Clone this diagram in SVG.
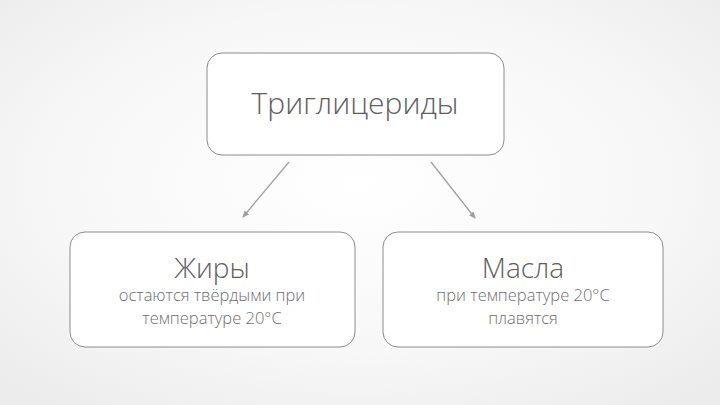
<svg xmlns="http://www.w3.org/2000/svg" width="720" height="405" viewBox="0 0 720 405">
  <defs>
    <radialGradient id="bg" cx="50%" cy="45%" r="70%">
      <stop offset="0" stop-color="#ffffff"/>
      <stop offset="0.6" stop-color="#f7f7f7"/>
      <stop offset="1" stop-color="#ececec"/>
    </radialGradient>
    <marker id="arr" markerWidth="8" markerHeight="8" refX="6" refY="4" orient="auto" markerUnits="userSpaceOnUse">
      <path d="M0,1 L7,4 L0,7 Z" fill="#a0a0a0"/>
    </marker>
    <style>
      .box { fill: #ffffff; stroke: #8c8c8c; stroke-width: 1; }
      .title { font-family: "Open Sans", "Liberation Sans", sans-serif; font-weight: 300; fill: #5e5e5e; text-anchor: middle; }
      .sub { font-family: "Open Sans", "Liberation Sans", sans-serif; font-weight: 300; fill: #6e6e6e; text-anchor: middle; font-size: 16.5px; }
      .conn { stroke: #a0a0a0; stroke-width: 1.3; fill: none; }
    </style>
  </defs>
  <rect width="720" height="405" fill="url(#bg)"/>
  <g id="connectors">
    <line class="conn" x1="289" y1="162" x2="243" y2="217" marker-end="url(#arr)"/>
    <line class="conn" x1="431" y1="162" x2="475" y2="218" marker-end="url(#arr)"/>
  </g>
  <g id="node-triglycerides">
    <rect class="box" x="207" y="53" width="297" height="102" rx="15"/>
    <text class="title" x="355" y="114" font-size="30">Триглицериды</text>
  </g>
  <g id="node-fats">
    <rect class="box" x="70" y="232" width="285" height="115" rx="15"/>
    <text class="title" x="212" y="278" font-size="28">Жиры</text>
    <text class="sub" x="212" y="301">остаются твёрдыми при</text>
    <text class="sub" x="212" y="324">температуре 20°С</text>
  </g>
  <g id="node-oils">
    <rect class="box" x="383" y="232" width="280" height="115" rx="15"/>
    <text class="title" x="523" y="278" font-size="28">Масла</text>
    <text class="sub" x="523" y="301">при температуре 20°С</text>
    <text class="sub" x="523" y="324">плавятся</text>
  </g>
</svg>
